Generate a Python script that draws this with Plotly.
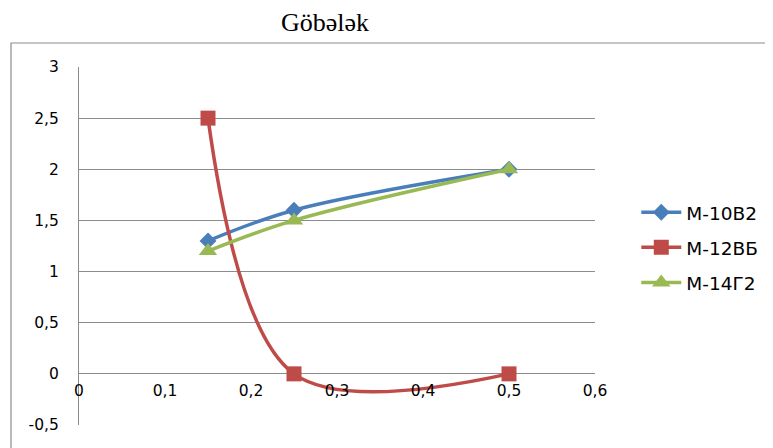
import plotly.graph_objects as go

title_text = "Göbələk"
x_vals = [0.15, 0.25, 0.5]
series_names = ["M-10B2", "M-12BБ", "M-14Г2"]
m10 = [1.3, 1.6, 2.0]
m12 = [2.5, 0.0, 0.0]
m14 = [1.2, 1.5, 2.0]
x_ticks = [0, 0.1, 0.2, 0.3, 0.4, 0.5, 0.6]
x_tick_text = ["0", "0,1", "0,2", "0,3", "0,4", "0,5", "0,6"]
y_ticks = [-0.5, 0, 0.5, 1, 1.5, 2, 2.5, 3]
y_tick_text = ["-0,5", "0", "0,5", "1", "1,5", "2", "2,5", "3"]

colors = ["#4a7ebb", "#be4b48", "#98b954"]
symbols = ["diamond", "square", "triangle-up"]
sizes = [13, 15, 16]
data = [m10, m12, m14]

fig = go.Figure()
for i, (name, ys) in enumerate(zip(series_names, data)):
    fig.add_trace(go.Scatter(
        x=x_vals, y=ys, name=name, mode="lines+markers",
        line=dict(color=colors[i], width=3.5, shape="spline", smoothing=1),
        marker=dict(symbol=symbols[i], size=sizes[i], color=colors[i]),
        legendgroup=name,
    ))

# page has an 8px body margin, so the figure is 8px smaller and margins shifted
W, H = 765, 440
L, T = 71, 59
PW, PH = 516, 358
tick_font = dict(family="DejaVu Sans, sans-serif", size=15.5, color="#000")
fig.update_layout(
    width=W, height=H,
    margin=dict(l=L, r=W - L - PW, t=T, b=H - T - PH, autoexpand=False),
    paper_bgcolor="white", plot_bgcolor="white",
    font=dict(family="DejaVu Sans, sans-serif", size=16, color="#000"),
    title=dict(text=title_text, x=317 / W, xanchor="center", y=1 - 13.5 / H, yanchor="middle",
               font=dict(family="Liberation Serif, Times New Roman, serif", size=26, color="#000")),
    showlegend=True,
    legend=dict(x=1.08, xanchor="left", y=0.495, yanchor="middle",
                traceorder="grouped", tracegroupgap=8,
                font=dict(family="DejaVu Sans, sans-serif", size=18.5), itemwidth=40),
    xaxis=dict(range=[0, 0.6], tickvals=x_ticks, ticktext=x_tick_text,
               showgrid=False, zeroline=False, showline=False,
               anchor="free", position=0.5 / 3.5, ticks="",
               ticklabelstandoff=6, tickfont=tick_font),
    yaxis=dict(range=[-0.5, 3], tickvals=y_ticks, ticktext=y_tick_text,
               showgrid=True, gridcolor="#8c8c8c", gridwidth=1.2,
               zeroline=False, showline=True, linecolor="#8c8c8c", linewidth=1.2,
               ticks="", ticklabelstandoff=16, tickfont=tick_font),
)

# outer chart border
fig.add_shape(type="rect", xref="paper", yref="paper",
              x0=(3 - L) / PW, x1=1.5, y0=-0.3, y1=(T + PH - 35) / PH,
              line=dict(color="#8c8c8c", width=1.2), fillcolor="rgba(0,0,0,0)", layer="below")

fig.write_html("out.html")
